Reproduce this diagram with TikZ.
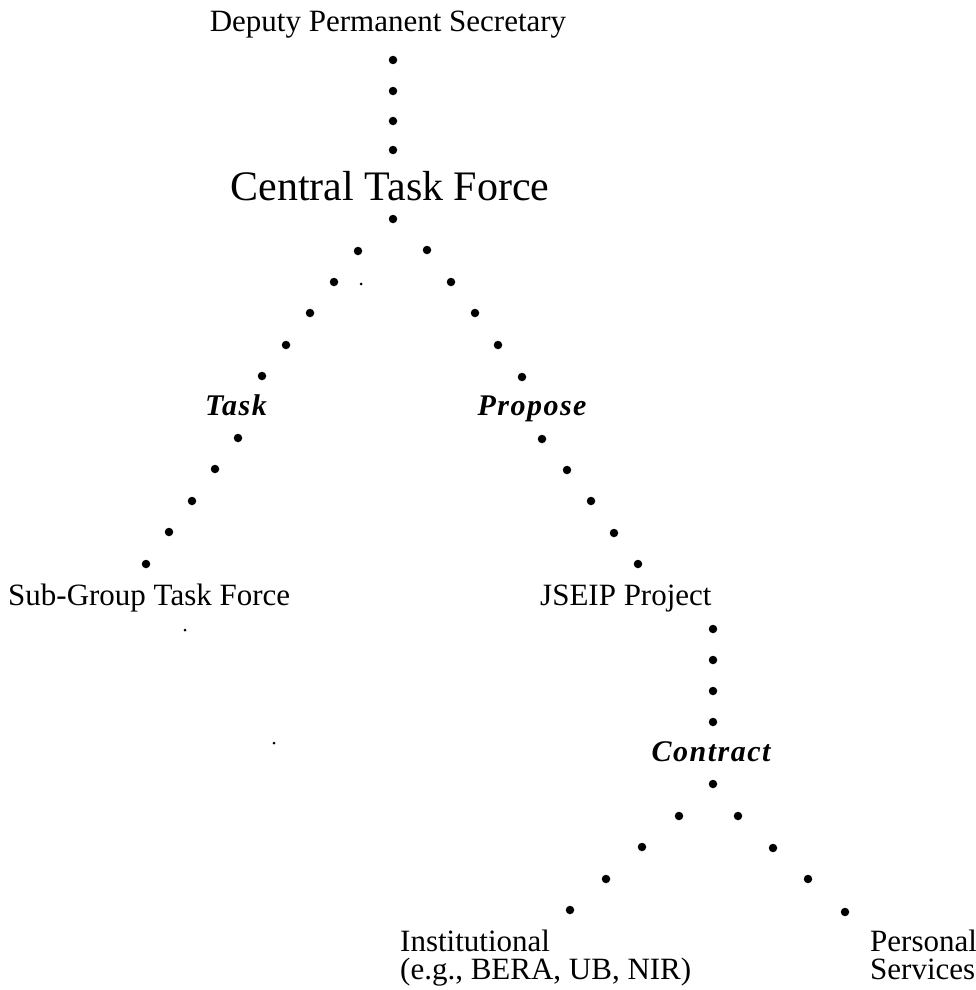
\documentclass[tikz,border=0pt]{standalone}
\usepackage{fontspec}
\setmainfont{Liberation Serif}
\newfontfamily\labfont[LetterSpace=5]{Liberation Serif}
\begin{document}
\begin{tikzpicture}[x=1pt,y=-1pt,
  txt/.style={inner sep=0pt, font=\fontsize{31}{29}\selectfont},
  lab/.style={inner sep=0pt, font=\fontsize{30}{30}\selectfont\labfont\bfseries\itshape},
  big/.style={inner sep=0pt, font=\fontsize{42}{44}\selectfont},
  dotn/.style={circle, fill=black, draw=none, inner sep=0pt, minimum size=8.5pt},
  speck/.style={circle, fill=black, draw=none, inner sep=0pt, minimum size=3pt}]
\useasboundingbox (0,0) rectangle (976,990);
% text nodes
\node[txt, anchor=base] (dps) at (388,32) {Deputy Permanent Secretary};
\node[big, anchor=base] (ctf) at (390,200) {Central Task Force};
\node[lab, anchor=base] (task) at (236,415) {Task};
\node[lab, anchor=base] (propose) at (532,415) {Propose};
\node[txt, anchor=base west] (sub) at (8,605) {Sub-Group Task Force};
\node[txt, anchor=base west] (jseip) at (540,605) {JSEIP Project};
\node[lab, anchor=base] (contract) at (711,761) {Contract};
\node[txt, anchor=base west] (inst) at (400,951) {Institutional};
\node[txt, anchor=base west] (instb) at (400,979) {(e.g., BERA, UB, NIR)};
\node[txt, anchor=base west] (pers) at (870,951) {Personal};
\node[txt, anchor=base west] (persb) at (870,979) {Services};
% dotted connectors
\foreach \x/\y [count=\i] in {393/60,393/91,393/121,393/150}
  \node[dotn] (a\i) at (\x,\y) {};
\node[dotn] (b0) at (393,219) {};
\foreach \x/\y [count=\i] in {358/251,334/282,310/313,286/345,262/376}
  \node[dotn] (bl\i) at (\x,\y) {};
\foreach \x/\y [count=\i] in {427/250,451/282,475/313,498/345,522/377}
  \node[dotn] (br\i) at (\x,\y) {};
\foreach \x/\y [count=\i] in {238/438,215/469,192/501,169/532,146/564}
  \node[dotn] (cl\i) at (\x,\y) {};
\foreach \x/\y [count=\i] in {542/439,567/470,591/501,614/533,638/564}
  \node[dotn] (cr\i) at (\x,\y) {};
\foreach \x/\y [count=\i] in {713/629,713/660,713/691,713/722}
  \node[dotn] (v\i) at (\x,\y) {};
\node[dotn] (e0) at (713,784) {};
\foreach \x/\y [count=\i] in {679/816,642/847,606/879,570/910}
  \node[dotn] (el\i) at (\x,\y) {};
\foreach \x/\y [count=\i] in {738/816,773/848,808/879,845/912}
  \node[dotn] (er\i) at (\x,\y) {};
% stray specks
\node[speck] (s1) at (361,284) {};
\node[speck] (s2) at (185,630) {};
\node[speck] (s3) at (274,743) {};
\end{tikzpicture}
\end{document}
